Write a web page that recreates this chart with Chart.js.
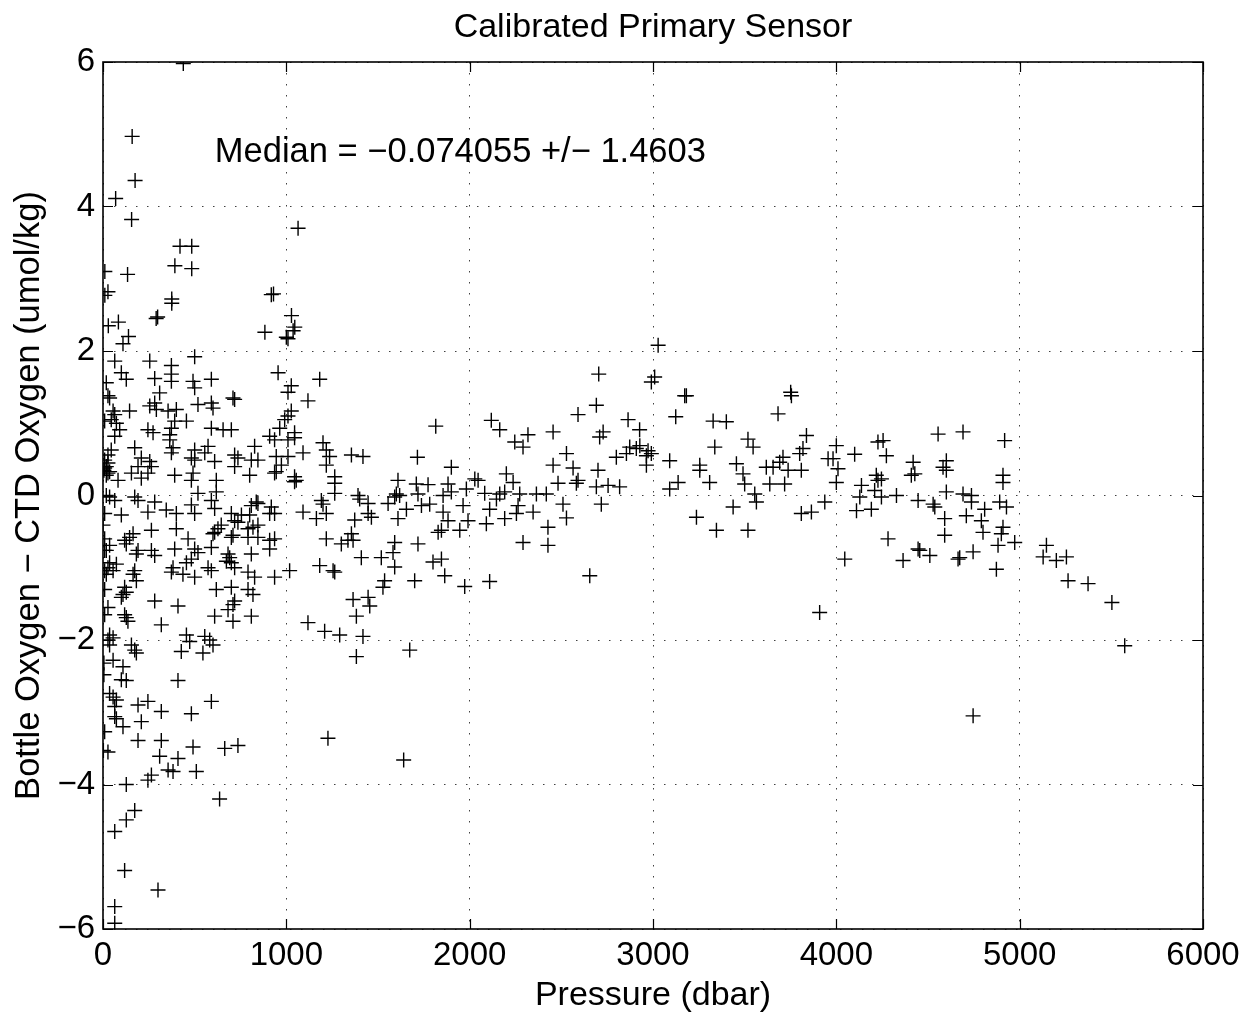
<!DOCTYPE html>
<html>
<head>
<meta charset="utf-8">
<script src="https://cdn.jsdelivr.net/npm/chart.js@4.4.0/dist/chart.umd.min.js"></script>
<style>
  html, body { margin: 0; padding: 0; background: #ffffff; }
  #wrap { width: 1254px; height: 1016px; }
</style>
</head>
<body>
<div id="wrap"><canvas id="c" width="1254" height="1016"></canvas></div>
<script>
// ---------- DATA ----------
const titleText = "Calibrated Primary Sensor";
const xAxisLabel = "Pressure (dbar)";
const yAxisLabel = "Bottle Oxygen \u2212 CTD Oxygen (umol/kg)";
const annotationText = "Median = \u22120.074055 +/\u2212 1.4603";
const annotationAt = [610, 4.62];

const xTicks = [0, 1000, 2000, 3000, 4000, 5000, 6000];
const yTicks = [-6, -4, -2, 0, 2, 4, 6];

// Pressure (dbar) of each bottle sample
const pressure = [
  438,159,175,69,156,420,484,392,484,10,134,27,10,375,375,298,290,918,930,29,84,139,883,1028,1046,1000,1064,1037,1009,
  109,500,64,255,373,100,127,18,282,373,373,491,500,591,955,1182,1027,1009,1118,309,27,36,282,518,591,600,709,718,55,145,255,291,355,400,1027,1009,9,73,391,455,245,273,373,364,591,655,700,991,964,64,909,936,1045,1045,1009,364,382,373,45,27,173,500,573,555,718,736,827,1200,1218,945,1009,1091,1236,1355,1418,
  9,27,18,36,18,5,9,27,
  209,255,264,245,191,482,500,609,809,845,718,973,1218,1264,1264,1045,1045,1054,936,945,800,618,491,482,391,82,155,209,
  18,36,173,191,282,518,618,591,836,809,1191,1200,1264,1391,1400,1446,1555,64,9,100,245,345,400,500,482,609,700,755,800,845,909,936,918,1091,1164,1218,1373,1446,1464,1409,1518,1355,1336,1300,1364,1218,1255,1264,1182,1018,936,845,791,818,845,909,936,909,809,718,736,627,645,609,600,700,709,791,682,691,700,673,718,591,500,518,391,455,482,264,282,182,191,164,145,264,400,464,118,127,9,18,36,27,55,73,18,9,173,164,182,382,373,436,500,573,591,618,700,791,827,791,818,809,709,682,718,709,609,282,409,318,118,109,127,100,27,118,127,136,9,9,36,55,455,555,1118,1209,1291,1418,1382,1364,1446,1455,1536,1527,
  45,64,91,0,9,36,
  27,36,155,173,182,473,427,582,600,545,1382,55,5,109,100,127,5,409,36,55,73,64,64,73,191,245,318,482,591,209,109,9,191,318,27,2,491,664,736,1227,309,409,264,245,355,382,509,636,127,173,127,64,118,300,64,64,
  3028,3009,2991,3173,3182,2704,2691,2591,2864,2927,3124,2728,2709,2455,2118,2164,2318,2246,2291,1815,2528,2455,2564,2873,2909,2855,2928,2973,2991,2964,2964,2800,3091,3137,3091,1715,1900,2200,2028,2046,2237,2700,2591,2582,2482,2691,2755,2818,1609,1709,1773,1882,1900,1982,2082,1600,1591,1618,1718,1855,2273,2364,2418,2164,2191,2146,1782,1737,1655,1964,2109,2264,2255,2346,2509,2528,2718,1855,1882,1609,1991,1946,1846,1828,2091,2191,2427,2427,2291,1718,1591,1582,1846,1800,1591,
  1700,1864,1973,2109,2655,1673,1640,
  3751,3755,3682,3328,3400,3337,3518,3546,3837,3818,3800,4000,3982,3955,4009,4000,4100,4227,4255,4273,4555,4691,3255,3255,3309,3455,3491,3500,3555,3564,3437,3237,3346,3518,3618,3655,3691,3709,3737,3809,3637,3718,3809,3864,3937,4137,4128,4218,4227,4246,4209,4246,4328,4110,4191,4419,4428,4409,4446,4528,4537,4600,4600,4582,4600,4591,4591,4691,4737,4737,4709,4809,4791,4800,4282,4446,4455,4510,4364,4664,4673,4746,4046,
  3909,4746,
  4918,4909,4909,4891,4928,4909,4900,4882,4973,4873,5146,5128,5200,5255,5264,5373,5503,5573
];

// Bottle oxygen minus CTD oxygen (umol/kg), same order as pressure
const oxygenDiff = [
  5.98,4.97,4.36,4.11,3.82,3.45,3.45,3.18,3.14,3.10,3.06,2.82,2.77,2.72,2.66,2.47,2.45,2.78,2.79,2.35,2.40,2.20,2.26,2.49,2.33,2.19,3.70,2.28,2.17,
  2.10,1.92,1.86,1.86,1.80,1.70,1.61,1.56,1.62,1.68,1.58,1.58,1.49,1.61,1.70,1.61,1.52,1.43,1.31,1.42,1.38,1.35,1.28,1.26,1.28,1.21,1.35,1.33,1.17,1.17,1.24,1.19,1.17,1.19,1.17,1.10,1.03,1.00,1.03,1.03,0.91,0.87,0.93,0.84,0.93,0.91,0.91,1.05,0.93,0.82,0.82,0.77,0.87,0.80,0.77,0.77,0.66,0.59,0.63,0.56,0.66,0.63,0.68,0.59,0.56,0.52,0.68,0.73,0.63,0.54,0.54,0.59,0.54,0.56,0.54,
  0.49,0.45,0.40,0.33,0.28,0.35,0.38,0.31,
  0.52,0.47,0.40,0.31,0.40,0.52,0.49,0.47,0.49,0.49,0.40,0.42,0.42,0.26,0.17,0.26,0.19,0.21,0.31,0.33,0.28,0.21,0.31,0.21,0.28,0.21,0.31,0.24,
  0.00,-0.02,-0.02,-0.07,-0.09,0.03,0.05,-0.07,-0.09,-0.14,-0.07,-0.12,0.03,0.00,-0.05,-0.11,-0.11,-0.07,-0.25,-0.27,-0.23,-0.20,-0.25,-0.25,-0.13,-0.18,-0.25,-0.27,-0.27,-0.11,-0.25,-0.25,-0.16,-0.23,-0.32,-0.25,-0.34,-0.25,-0.30,-0.86,-0.86,-0.53,-0.62,-0.67,-0.62,-0.60,-1.04,-1.06,-0.97,-1.04,-1.13,-0.41,-0.46,-0.44,-0.58,-0.62,-0.60,-0.74,-0.81,-0.35,-0.37,-0.46,-0.41,-0.51,-0.53,-0.58,-0.55,-0.58,-0.81,-0.86,-0.93,-0.91,-1.00,-0.72,-0.74,-0.79,-0.74,-0.93,-0.88,-0.76,-0.83,-0.81,-0.76,-0.53,-0.58,-0.48,-0.46,-0.60,-0.62,-0.67,-0.60,-0.76,-0.69,-1.00,-1.04,-0.95,-1.09,-1.04,-1.04,-1.09,-1.18,-1.00,-1.06,-1.09,-1.13,-1.00,-1.04,-1.30,-1.27,-1.06,-1.13,-1.30,-1.37,-1.67,-1.51,-1.58,-1.46,-1.74,-1.67,-1.46,-1.53,-1.79,-1.27,-1.37,-1.34,-1.41,-1.55,-1.65,-1.69,-1.74,-1.30,-1.65,-1.93,-1.97,-1.93,-1.95,-1.76,-1.88,-1.93,-1.95,-1.67,-1.44,-1.41,-1.53,-1.18,-1.27,
  1.05,1.12,0.91,-0.41,-0.76,-0.93,
  -2.00,-2.07,-2.07,-2.14,-2.18,-2.02,-2.16,-2.00,-2.07,-2.18,-2.23,-2.28,-2.32,-2.37,-2.55,-2.56,-2.48,-2.56,-2.74,-2.79,-2.83,-2.92,-3.06,-3.09,-2.90,-2.85,-2.99,-3.02,-2.85,-3.13,-3.20,-3.27,-3.39,-3.39,-3.55,-3.53,-3.48,-3.50,-3.46,-3.36,-3.61,-3.64,-3.87,-3.94,-3.80,-3.82,-3.82,-4.20,-4.00,-4.36,-4.49,-4.65,-5.19,-5.46,-5.69,-5.92,
  2.08,1.64,1.57,1.38,1.38,1.68,1.25,1.12,1.05,0.91,1.09,0.88,0.81,0.88,1.04,0.91,0.84,0.74,0.67,0.96,0.58,0.42,0.38,0.67,0.65,0.58,0.69,0.62,0.58,0.55,0.42,0.53,0.48,0.18,0.09,0.53,0.39,0.30,0.23,0.21,0.18,0.35,0.21,0.17,0.17,0.12,0.14,0.12,0.21,0.16,0.15,0.16,0.05,0.09,0.03,0.02,-0.02,0.00,0.02,0.00,0.02,0.02,0.02,0.02,0.05,-0.05,-0.12,-0.14,-0.19,-0.14,-0.19,-0.14,-0.25,-0.23,-0.12,-0.31,-0.12,-0.23,-0.35,-0.32,-0.35,-0.48,-0.48,-0.51,-0.39,-0.32,-0.44,-0.69,-0.65,-0.67,-0.65,-0.79,-0.88,-0.92,-0.99,
  -1.18,-1.11,-1.26,-1.19,-1.11,-2.14,-3.66,
  1.43,1.38,1.13,1.03,1.02,0.67,0.78,0.67,0.83,0.65,0.58,0.69,0.51,0.51,0.37,0.18,0.57,0.74,0.76,0.55,0.85,0.88,0.42,0.35,0.18,0.44,0.30,0.16,0.02,-0.09,-0.16,-0.30,-0.48,-0.48,0.39,0.39,0.46,0.53,0.35,0.35,0.16,0.16,-0.25,-0.23,-0.09,0.14,-0.02,0.28,0.21,0.23,0.07,-0.02,0.00,-0.21,-0.19,0.46,0.30,0.28,-0.07,-0.12,-0.16,0.48,0.35,0.39,0.05,-0.32,-0.55,0.02,0.00,-0.09,-0.28,-0.19,-0.35,-0.51,-0.60,-0.74,-0.76,-0.83,-0.90,-0.88,-0.86,-0.78,-0.88,
  -1.62,-3.05,
  0.76,0.28,0.18,-0.09,-0.16,-0.44,-0.53,-0.69,-0.65,-1.02,-0.69,-0.85,-0.90,-0.85,-1.18,-1.22,-1.48,-2.08
];

// ---------- STYLE ----------
const FONT = '"Liberation Sans", Arial, Helvetica, sans-serif';

const points = pressure.map((p, i) => ({ x: p, y: oxygenDiff[i] }));

const fmt = v => String(v).replace('-', '\u2212');

const matlabFrame = {
  id: 'matlabFrame',
  afterDraw(chart) {
    const ctx = chart.ctx;
    const a = chart.chartArea;
    const xs = chart.scales.x, ys = chart.scales.y;
    ctx.save();
    // inner tick marks
    ctx.strokeStyle = '#000';
    ctx.lineWidth = 1.2;
    ctx.setLineDash([]);
    const tl = 10;
    ctx.beginPath();
    xTicks.forEach(v => {
      const px = Math.round(xs.getPixelForValue(v)) + 0.5;
      ctx.moveTo(px, a.bottom); ctx.lineTo(px, a.bottom - tl);
      ctx.moveTo(px, a.top); ctx.lineTo(px, a.top + tl);
    });
    yTicks.forEach(v => {
      const py = Math.round(ys.getPixelForValue(v)) + 0.5;
      ctx.moveTo(a.left, py); ctx.lineTo(a.left + tl, py);
      ctx.moveTo(a.right, py); ctx.lineTo(a.right - tl, py);
    });
    ctx.stroke();
    // box
    ctx.lineWidth = 1.6;
    ctx.strokeRect(a.left, a.top, a.right - a.left, a.bottom - a.top);

    ctx.fillStyle = '#000';
    // title
    ctx.font = '34px ' + FONT;
    ctx.textAlign = 'center';
    ctx.textBaseline = 'alphabetic';
    ctx.fillText(titleText, (a.left + a.right) / 2, 37);
    // x axis title
    ctx.fillText(xAxisLabel, (a.left + a.right) / 2, 1005);
    // y axis title
    ctx.save();
    ctx.translate(39, (a.top + a.bottom) / 2);
    ctx.rotate(-Math.PI / 2);
    ctx.font = '34.5px ' + FONT;
    ctx.fillText(yAxisLabel, 0, 0);
    ctx.restore();
    // annotation
    ctx.font = '34.5px ' + FONT;
    ctx.textAlign = 'left';
    ctx.fillText(annotationText, xs.getPixelForValue(annotationAt[0]), ys.getPixelForValue(annotationAt[1]));
    ctx.restore();
  }
};

new Chart(document.getElementById('c'), {
  type: 'scatter',
  data: {
    datasets: [{
      data: points,
      pointStyle: 'cross',
      pointRadius: 7.5,
      pointHoverRadius: 7.5,
      pointBorderWidth: 1.4,
      borderColor: '#000',
      backgroundColor: '#000',
      showLine: false
    }]
  },
  options: {
    responsive: false,
    animation: false,
    events: [],
    layout: { padding: { top: 62, right: 51, bottom: 0, left: 0 } },
    plugins: { legend: { display: false }, tooltip: { enabled: false }, title: { display: false } },
    scales: {
      x: {
        type: 'linear', position: 'bottom', min: 0, max: 6000,
        afterFit: s => { s.height = 87; },
        afterBuildTicks: s => { s.ticks = xTicks.map(v => ({ value: v })); },
        ticks: { color: '#000', padding: 7, maxRotation: 0, font: { family: FONT, size: 33 }, callback: v => fmt(v) },
        grid: { color: 'rgba(0,0,0,0.75)', lineWidth: 1, drawTicks: false },
        border: { display: false, dash: [1.5, 9.5] }
      },
      y: {
        type: 'linear', position: 'left', min: -6, max: 6,
        afterFit: s => { s.width = 103; },
        afterBuildTicks: s => { s.ticks = yTicks.map(v => ({ value: v })); },
        ticks: { color: '#000', padding: 8, font: { family: FONT, size: 33 }, callback: v => fmt(v) },
        grid: { color: 'rgba(0,0,0,0.75)', lineWidth: 1, drawTicks: false },
        border: { display: false, dash: [1.5, 9.5] }
      }
    }
  },
  plugins: [matlabFrame]
});
</script>
</body>
</html>
